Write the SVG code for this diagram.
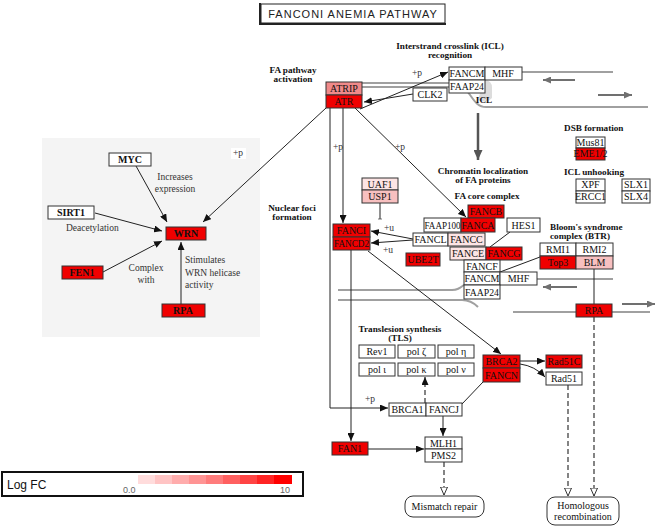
<svg xmlns="http://www.w3.org/2000/svg" width="660" height="527" viewBox="0 0 660 527">
<style>
.b{stroke:#333;stroke-width:1}
.w{fill:#fff}
.r{fill:#f00000}
.lr{fill:#f08a8a}
.pk{fill:#f8c0c0}
.vp{fill:#fde4e4}
.t{font-family:"Liberation Serif","Times New Roman",serif;font-size:10px;text-anchor:middle;fill:#111}
.tb{font-family:"Liberation Serif","Times New Roman",serif;font-size:10px;font-weight:bold;text-anchor:middle;fill:#111}
.h{font-family:"Liberation Serif","Times New Roman",serif;font-size:9.2px;font-weight:bold;text-anchor:middle;fill:#111}
.hs{font-family:"Liberation Serif","Times New Roman",serif;font-size:9.2px;font-weight:bold;text-anchor:start;fill:#111}
.lb{font-family:"Liberation Serif","Times New Roman",serif;font-size:9.5px;fill:#333}
.lm{font-family:"Liberation Serif","Times New Roman",serif;font-size:9.5px;fill:#333;text-anchor:middle}
.c{stroke:#222;stroke-width:1;fill:none}
.dna{stroke:#a0a0a0;stroke-width:2;fill:none}
.dir{stroke:#707070;stroke-width:2;fill:none}
.d{stroke:#333;stroke-width:1.2;fill:none;stroke-dasharray:5,3}
</style>
<defs>
<marker id="ah" markerUnits="userSpaceOnUse" markerWidth="8" markerHeight="7" refX="8" refY="3.5" orient="auto"><path d="M0,0 L8,3.5 L0,7z" fill="#111"/></marker>
<marker id="ag" markerUnits="userSpaceOnUse" markerWidth="8" markerHeight="7" refX="8" refY="3.5" orient="auto"><path d="M0,0 L8,3.5 L0,7z" fill="#707070"/></marker>
<marker id="agb" markerUnits="userSpaceOnUse" markerWidth="10" markerHeight="9" refX="10" refY="4.5" orient="auto"><path d="M0,0 L10,4.5 L0,9z" fill="#555"/></marker>
<marker id="ao" markerUnits="userSpaceOnUse" markerWidth="9" markerHeight="8" refX="8.5" refY="4" orient="auto"><path d="M0.5,0.5 L8.5,4 L0.5,7.5z" fill="#fff" stroke="#333" stroke-width="1"/></marker>
<marker id="tb" markerUnits="userSpaceOnUse" markerWidth="12" markerHeight="4" refX="2" refY="6" orient="auto" viewBox="0 0 4 12"><path d="M2,0 V12" stroke="#333" stroke-width="2"/></marker>
</defs>
<rect width="660" height="527" fill="#fff"/>

<!-- Title -->
<g id="title">
<rect x="261" y="4" width="184" height="19" fill="#fff" stroke="#222" stroke-width="1"/>
<path d="M260,3 V24 H446" stroke="#222" stroke-width="2" fill="none"/>
<text x="353" y="18" font-family="Liberation Sans, Arial, sans-serif" font-size="11" letter-spacing="1" text-anchor="middle" fill="#222">FANCONI ANEMIA PATHWAY</text>
</g>

<!-- Left panel -->
<rect x="42" y="138" width="218" height="199" fill="#f4f4f4"/>
<rect x="231" y="148" width="15" height="11" fill="#fff"/>
<text class="lb" x="233" y="156">+p</text>
<text class="lm" x="175" y="180">Increases</text>
<text class="lm" x="175" y="192">expression</text>
<text class="lb" x="66" y="231">Deacetylation</text>
<text class="lm" x="146" y="271">Complex</text>
<text class="lm" x="146" y="283">with</text>
<text class="lb" x="185" y="263">Stimulates</text>
<text class="lb" x="185" y="276">WRN helicase</text>
<text class="lb" x="185" y="288">activity</text>

<!-- DNA strands -->
<g id="dna">
<path d="M484,80 Q492,80 492,88 V98 Q486,104 478,100 Z" fill="#dcdcdc"/>
<path class="dna" d="M362,83 H450"/>
<path class="dna" d="M522,72 H613"/>
<path class="dna" d="M362,87 H460 C470,87 472,107 486,107 H648"/>
<path class="dir" d="M575,80 H543" marker-end="url(#ag)"/>
<path class="dir" d="M598,95 H632" marker-end="url(#ag)"/>
<path class="dna" d="M338,290 H452 C458,290 460,288 464,285"/>
<path class="dna" d="M338,300 H462 C470,300 474,303 478,307"/>
<path class="dna" d="M537,279 H613"/>
<path class="dna" d="M513,312 H650"/>
<path class="dir" d="M577,287 H543" marker-end="url(#ag)"/>
<path class="dir" d="M622,304 H655" marker-end="url(#ag)"/>
</g>

<!-- Section labels -->
<g id="labels">
<text class="h" x="293" y="73">FA pathway</text>
<text class="h" x="293" y="82">activation</text>
<text class="h" x="450" y="49">Interstrand crosslink (ICL)</text>
<text class="h" x="450" y="58">recognition</text>
<text class="h" x="484" y="103" font-size="10">ICL</text>
<text class="hs" x="564" y="131">DSB formation</text>
<text class="hs" x="564" y="175">ICL unhooking</text>
<text class="h" x="483" y="174">Chromatin localization</text>
<text class="h" x="483" y="183">of FA proteins</text>
<text class="h" x="487" y="199">FA core complex</text>
<text class="h" x="292" y="211">Nuclear foci</text>
<text class="h" x="292" y="220">formation</text>
<text class="hs" x="550" y="230">Bloom's syndrome</text>
<text class="hs" x="550" y="239">complex (BTR)</text>
<text class="h" x="400" y="332">Translesion synthesis</text>
<text class="h" x="400" y="341">(TLS)</text>
<text class="lb" x="412" y="76">+p</text>
<text class="lb" x="333" y="150">+p</text>
<text class="lb" x="395" y="150">+p</text>
<text class="lb" x="365" y="402">+p</text>
<text class="lb" x="384" y="231">+u</text>
<text class="lb" x="383" y="253">+u</text>
</g>

<!-- Connectors -->
<g id="connectors">
<path class="c" d="M136,166 L167,222" marker-end="url(#ah)"/>
<path class="c" d="M95,213 L162,231" marker-end="url(#ah)"/>
<path class="c" d="M103,272 L162,241" marker-end="url(#ah)"/>
<path class="c" d="M181,304 V242" marker-end="url(#ah)"/>
<path class="c" d="M326,108 L203,222" marker-end="url(#ah)"/>
<path class="c" d="M413,94 L364,102" marker-end="url(#ah)"/>
<path class="c" d="M360,109 L448,72" marker-end="url(#ah)"/>
<path d="M478,113 V160" stroke="#555" stroke-width="2.5" fill="none" marker-end="url(#agb)"/>
<path class="c" d="M330,108 V408 H388" marker-end="url(#ah)"/>
<path class="c" d="M343,108 V223" marker-end="url(#ah)"/>
<path class="c" d="M355,108 L466,217" marker-end="url(#ah)"/>
<path class="c" d="M380,203 V219" marker-end="url(#tb)"/>
<path class="c" d="M413,239 L371,231" marker-end="url(#ah)"/>
<path class="c" d="M413,240 L371,243" marker-end="url(#ah)"/>
<path class="c" d="M510,232 L490,247"/>
<path class="c" d="M540,257 L500,272"/>
<path class="c" d="M594,269 V304"/>
<path class="c" d="M368,251 L501,354" marker-end="url(#ah)"/>
<path class="c" d="M351,250 V441" marker-end="url(#ah)"/>
<path class="d" d="M425,403 V377" marker-end="url(#ah)"/>
<path class="c" d="M462,404 L483,382"/>
<path class="c" d="M443,416 V436" marker-end="url(#ah)"/>
<path class="c" d="M368,449 H424" marker-end="url(#ah)"/>
<path class="d" d="M444,462 V495" marker-end="url(#ao)"/>
<path class="c" d="M520,361 H545" marker-end="url(#ah)"/>
<path class="c" d="M520,364 Q535,366 545,377" marker-end="url(#ah)"/>
<path class="d" d="M568,385 V496" marker-end="url(#ao)"/>
<path class="d" d="M594,317 V496" marker-end="url(#ao)"/>
</g>

<!-- Left panel nodes -->
<g id="MYC"><rect class="b w" x="109" y="153" width="42" height="13"/><text class="tb" x="130" y="163">MYC</text></g>
<g id="SIRT1"><rect class="b w" x="48" y="206" width="46" height="13"/><text class="tb" x="71" y="216">SIRT1</text></g>
<g id="WRN"><rect class="b r" x="166" y="227" width="40" height="13"/><text class="tb" x="186" y="237">WRN</text></g>
<g id="FEN1"><rect class="b r" x="62" y="266" width="41" height="13"/><text class="tb" x="82" y="276">FEN1</text></g>
<g id="RPA1"><rect class="b r" x="162" y="304" width="43" height="13"/><text class="tb" x="183" y="314">RPA</text></g>

<!-- Main nodes -->
<g id="ATRIP"><rect class="b lr" x="326" y="82" width="36" height="13"/><text class="t" x="344" y="92">ATRIP</text></g>
<g id="ATR"><rect class="b r" x="326" y="95" width="36" height="13"/><text class="t" x="344" y="105">ATR</text></g>
<g id="CLK2"><rect class="b w" x="413" y="88" width="34" height="13"/><text class="t" x="430" y="98">CLK2</text></g>
<g id="FANCM1"><rect class="b w" x="449" y="67" width="36" height="13"/><text class="t" x="467" y="77">FANCM</text></g>
<g id="MHF1"><rect class="b w" x="485" y="67" width="37" height="13"/><text class="t" x="503" y="77">MHF</text></g>
<g id="FAAP24a"><rect class="b w" x="449" y="80" width="36" height="13"/><text class="t" x="467" y="90" textLength="34" lengthAdjust="spacingAndGlyphs">FAAP24</text></g>

<g id="Mus81"><rect class="b w" x="576" y="137" width="29" height="11"/><text class="t" x="590.5" y="146" font-size="9">Mus81</text></g>
<g id="EME12"><rect class="b r" x="576" y="148" width="29" height="12"/><text class="t" x="590.5" y="157" font-size="9">EME1/2</text></g>
<g id="XPF"><rect class="b w" x="576" y="179" width="29" height="12"/><text class="t" x="590.5" y="188" font-size="9">XPF</text></g>
<g id="ERCC1"><rect class="b w" x="576" y="191" width="29" height="12"/><text class="t" x="590.5" y="200" font-size="9">ERCC1</text></g>
<g id="SLX1"><rect class="b w" x="622" y="179" width="28" height="12"/><text class="t" x="636" y="188" font-size="9">SLX1</text></g>
<g id="SLX4"><rect class="b w" x="622" y="191" width="28" height="12"/><text class="t" x="636" y="200" font-size="9">SLX4</text></g>

<g id="UAF1"><rect class="b vp" x="362" y="178" width="36" height="12"/><text class="t" x="380" y="188">UAF1</text></g>
<g id="USP1"><rect class="b pk" x="362" y="190" width="36" height="13"/><text class="t" x="380" y="200">USP1</text></g>
<g id="FANCI"><rect class="b r" x="333" y="224" width="37" height="13"/><text class="t" x="351.5" y="234">FANCI</text></g>
<g id="FANCD2"><rect class="b r" x="333" y="237" width="37" height="13"/><text class="t" x="351.5" y="247" textLength="35" lengthAdjust="spacingAndGlyphs">FANCD2</text></g>

<g id="FANCB"><rect class="b r" x="468" y="205" width="36" height="13"/><text class="t" x="486" y="215">FANCB</text></g>
<g id="FAAP100"><rect class="b w" x="424" y="218" width="37" height="14"/><text class="t" x="442.5" y="229" textLength="36" lengthAdjust="spacingAndGlyphs">FAAP100</text></g>
<g id="FANCA"><rect class="b r" x="461" y="218" width="34" height="14"/><text class="t" x="478" y="229">FANCA</text></g>
<g id="HES1"><rect class="b w" x="507" y="218" width="33" height="14"/><text class="t" x="523.5" y="229">HES1</text></g>
<g id="FANCL"><rect class="b w" x="413" y="233" width="35" height="13"/><text class="t" x="430.5" y="243">FANCL</text></g>
<g id="FANCC"><rect class="b vp" x="448" y="233" width="37" height="13"/><text class="t" x="466.5" y="243">FANCC</text></g>
<g id="FANCE"><rect class="b vp" x="450" y="247" width="36" height="13"/><text class="t" x="468" y="257">FANCE</text></g>
<g id="FANCG"><rect class="b r" x="486" y="247" width="36" height="13"/><text class="t" x="504" y="257">FANCG</text></g>
<g id="UBE2T"><rect class="b r" x="406" y="253" width="34" height="13"/><text class="t" x="423" y="263">UBE2T</text></g>
<g id="FANCF"><rect class="b w" x="464" y="260" width="36" height="12"/><text class="t" x="482" y="270">FANCF</text></g>
<g id="FANCM2"><rect class="b w" x="464" y="272" width="36" height="13"/><text class="t" x="482" y="282">FANCM</text></g>
<g id="MHF2"><rect class="b w" x="500" y="272" width="37" height="13"/><text class="t" x="518.5" y="282">MHF</text></g>
<g id="FAAP24b"><rect class="b w" x="464" y="285" width="36" height="14"/><text class="t" x="482" y="296" textLength="34" lengthAdjust="spacingAndGlyphs">FAAP24</text></g>

<g id="RMI1"><rect class="b w" x="540" y="243" width="36" height="13"/><text class="t" x="558" y="253">RMI1</text></g>
<g id="RMI2"><rect class="b w" x="576" y="243" width="37" height="13"/><text class="t" x="594.5" y="253">RMI2</text></g>
<g id="Top3"><rect class="b r" x="540" y="256" width="36" height="13"/><text class="t" x="558" y="266">Top3</text></g>
<g id="BLM"><rect class="b pk" x="576" y="256" width="37" height="13"/><text class="t" x="594.5" y="266">BLM</text></g>
<g id="RPA2"><rect class="b r" x="576" y="304" width="36" height="13"/><text class="t" x="594" y="314">RPA</text></g>

<g id="Rev1"><rect class="b w" x="359" y="345" width="36" height="13"/><text class="t" x="377" y="355">Rev1</text></g>
<g id="polz"><rect class="b w" x="398" y="345" width="37" height="13"/><text class="t" x="416.5" y="355">pol ζ</text></g>
<g id="poleta"><rect class="b w" x="438" y="345" width="36" height="13"/><text class="t" x="456" y="355">pol η</text></g>
<g id="poli"><rect class="b w" x="359" y="363" width="36" height="13"/><text class="t" x="377" y="373">pol ι</text></g>
<g id="polk"><rect class="b w" x="398" y="363" width="37" height="13"/><text class="t" x="416.5" y="373">pol κ</text></g>
<g id="poln"><rect class="b w" x="438" y="363" width="36" height="13"/><text class="t" x="456" y="373">pol ν</text></g>

<g id="BRCA1"><rect class="b w" x="389" y="403" width="37" height="13"/><text class="t" x="407.5" y="413">BRCA1</text></g>
<g id="FANCJ"><rect class="b w" x="426" y="403" width="36" height="13"/><text class="t" x="444" y="413">FANCJ</text></g>
<g id="MLH1"><rect class="b w" x="425" y="437" width="37" height="12"/><text class="t" x="443.5" y="447">MLH1</text></g>
<g id="PMS2"><rect class="b w" x="425" y="449" width="37" height="13"/><text class="t" x="443.5" y="459">PMS2</text></g>
<g id="FAN1"><rect class="b r" x="332" y="442" width="36" height="13"/><text class="t" x="350" y="452">FAN1</text></g>
<g id="BRCA2"><rect class="b r" x="483" y="355" width="37" height="13"/><text class="t" x="501.5" y="365">BRCA2</text></g>
<g id="FANCN"><rect class="b r" x="483" y="368" width="37" height="14"/><text class="t" x="501.5" y="379">FANCN</text></g>
<g id="Rad51C"><rect class="b r" x="546" y="355" width="36" height="13"/><text class="t" x="564" y="365">Rad51C</text></g>
<g id="Rad51"><rect class="b w" x="546" y="372" width="36" height="13"/><text class="t" x="564" y="382">Rad51</text></g>
<g id="MMR"><rect class="b w" x="405" y="496" width="79" height="21" rx="8"/><text class="t" x="444.5" y="510">Mismatch repair</text></g>
<g id="HR"><rect class="b w" x="547" y="497" width="72" height="28" rx="8"/><text class="t" x="583" y="509">Homologous</text><text class="t" x="583" y="520">recombination</text></g>

<!-- Legend -->
<g id="legend">
<rect x="2" y="472" width="301" height="24" fill="#fff" stroke="#111" stroke-width="2"/>
<text x="7" y="489" font-family="Liberation Sans, Arial, sans-serif" font-size="12" fill="#111">Log FC</text>
<rect x="138" y="475" width="17" height="9" fill="#ffdcdc"/>
<rect x="155" y="475" width="17" height="9" fill="#ffc4c4"/>
<rect x="172" y="475" width="17" height="9" fill="#ffacac"/>
<rect x="189" y="475" width="17" height="9" fill="#ff9494"/>
<rect x="206" y="475" width="17" height="9" fill="#ff7c7c"/>
<rect x="223" y="475" width="17" height="9" fill="#ff6060"/>
<rect x="240" y="475" width="17" height="9" fill="#ff4444"/>
<rect x="257" y="475" width="17" height="9" fill="#ff2424"/>
<rect x="274" y="475" width="18" height="9" fill="#ff0000"/>
<text x="123" y="493" font-family="Liberation Sans, Arial, sans-serif" font-size="9" fill="#666">0.0</text>
<text x="280" y="493" font-family="Liberation Sans, Arial, sans-serif" font-size="9" fill="#666">10</text>
</g>
</svg>
